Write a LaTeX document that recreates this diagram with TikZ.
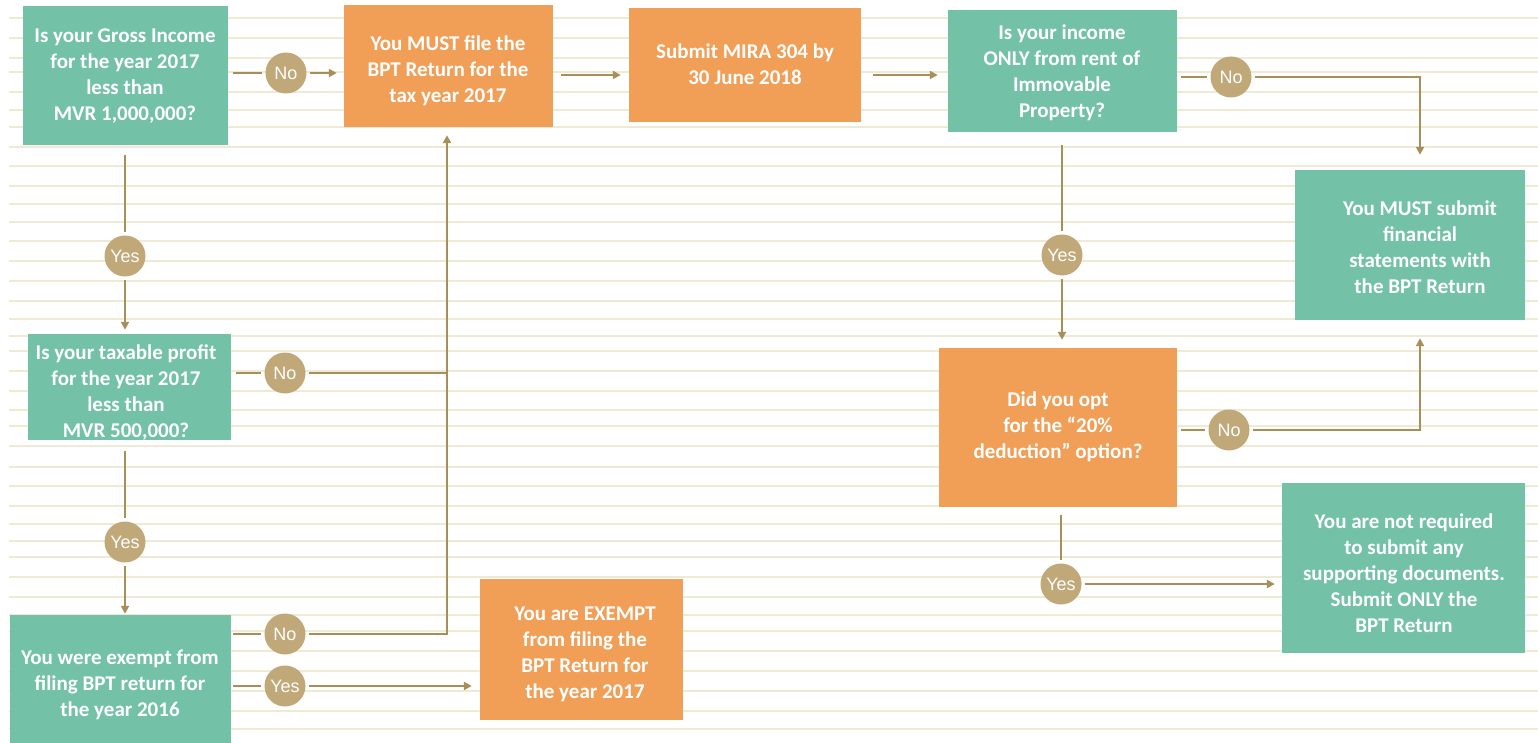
\documentclass[tikz,border=0pt]{standalone}
\usepackage{fontspec}
\usetikzlibrary{arrows.meta}
\newfontfamily\cbfont{Carlito}
\newfontfamily\lsfont{Liberation Sans}
\definecolor{tealbox}{HTML}{73C1A6}
\definecolor{orangebox}{HTML}{F19E56}
\definecolor{tanball}{HTML}{C1A879}
\definecolor{connline}{HTML}{A88E58}
\definecolor{ruleline}{HTML}{EFEAD3}
\tikzset{
  boxtext/.style={text=white, align=center, inner sep=0pt,
    font=\cbfont\bfseries\fontsize{21}{26}\selectfont},
  tbox/.style={fill=tealbox, inner sep=0pt},
  obox/.style={fill=orangebox, inner sep=0pt},
  yn/.style={circle, fill=tanball, text=white, minimum size=41pt, inner sep=0pt,
    font=\lsfont\fontsize{18}{20}\selectfont},
  conn/.style={draw=connline, line width=2.6pt},
  arr/.style={conn, -{Triangle[length=8pt,width=8pt]}},
  rule/.style={draw=ruleline, line width=1.6pt}
}
\begin{document}
\begin{tikzpicture}[x=1pt,y=-1pt]
\useasboundingbox (0,0) rectangle (1538,743);
\fill[white] (0,0) rectangle (1538,743);
% ruled background
\foreach \yy in {18,38,58,72,92,110,127,147,166,186,204,222,241,261,281,301,319,336,351,371,391,410,426,446,467,486,506,524,541,557,577,597,615,631,651,671,691,711,729}
  \draw[rule] (9,\yy) -- (1538,\yy);
% boxes
\node[tbox, minimum width=205pt, minimum height=139pt] (A) at (125.5,75.5) {};
\node[obox, minimum width=209pt, minimum height=122pt] (B) at (448.5,66) {};
\node[obox, minimum width=232pt, minimum height=114pt] (C) at (745,65) {};
\node[tbox, minimum width=229pt, minimum height=122pt] (D) at (1062.5,71) {};
\node[tbox, minimum width=230pt, minimum height=150pt] (E) at (1410,245) {};
\node[obox, minimum width=238pt, minimum height=159pt] (F) at (1058,427.5) {};
\node[tbox, minimum width=243pt, minimum height=170pt] (G) at (1403.5,568) {};
\node[tbox, minimum width=203pt, minimum height=106pt] (H) at (129.5,387) {};
\node[tbox, minimum width=221pt, minimum height=128pt] (I) at (120.5,679) {};
\node[obox, minimum width=203pt, minimum height=141pt] (J) at (581.5,649.5) {};
% box texts
\node[boxtext] (At) at (125,76.5) {Is your Gross Income\\for the year 2017\\less than\\MVR 1,000,000?};
\node[boxtext] (Bt) at (448,70.5) {You MUST file the\\BPT Return for the\\tax year 2017};
\node[boxtext] (Ct) at (745,64) {Submit MIRA 304 by\\30 June 2018};
\node[boxtext] (Dt) at (1062,73) {Is your income\\ONLY from rent of\\Immovable\\Property?};
\node[boxtext] (Et) at (1420,247.5) {You MUST submit\\financial\\statements with\\the BPT Return};
\node[boxtext] (Ft) at (1058,426.5) {Did you opt\\for the “20\%\\deduction” option?};
\node[boxtext] (Gt) at (1404,573.5) {You are not required\\to submit any\\supporting documents.\\Submit ONLY the\\BPT Return};
\node[boxtext] (Ht) at (126,392.5) {Is your taxable profit\\for the year 2017\\less than\\MVR 500,000?};
\node[boxtext] (It) at (120,685) {You were exempt from\\filing BPT return for\\the year 2016};
\node[boxtext] (Jt) at (585,654.5) {You are EXEMPT\\from filing the\\BPT Return for\\the year 2017};
% yes/no balls
\node[yn] (n1) at (286,73) {No};
\node[yn] (y1) at (125,256) {Yes};
\node[yn] (n2) at (285,373) {No};
\node[yn] (y2) at (125,542) {Yes};
\node[yn] (n3) at (285,634) {No};
\node[yn] (y3) at (285,686) {Yes};
\node[yn] (n4) at (1231,77) {No};
\node[yn] (y4) at (1062,255) {Yes};
\node[yn] (n5) at (1229,430) {No};
\node[yn] (y5) at (1061,584) {Yes};
% junction coordinates
\coordinate (jn) at (447,634);
\coordinate (ec) at (1420,77);
\coordinate (fc) at (1420,430);
% connectors
\draw[conn, shorten <=5pt, shorten >=3pt] (A.east |- n1) -- (n1);
\draw[arr, shorten <=3pt, shorten >=7pt] (n1) -- (B.west |- n1);
\draw[conn, shorten <=10pt, shorten >=3pt] (y1 |- A.south) -- (y1);
\draw[arr, shorten <=3pt, shorten >=4pt] (y1) -- (y1 |- H.north);
\draw[conn, shorten <=5pt, shorten >=3pt] (H.east |- n2) -- (n2);
\draw[conn, shorten <=3pt] (n2) -- (jn |- n2);
\draw[conn, shorten <=11pt, shorten >=3pt] (y2 |- H.south) -- (y2);
\draw[arr, shorten <=3pt, shorten >=1pt] (y2) -- (y2 |- I.north);
\draw[conn, shorten <=2pt, shorten >=3pt] (I.east |- n3) -- (n3);
\draw[arr, shorten <=3pt, shorten >=8pt] (n3) -- (jn) -- (jn |- B.south);
\draw[conn, shorten <=2pt, shorten >=3pt] (I.east |- y3) -- (y3);
\draw[arr, shorten <=3pt, shorten >=8pt] (y3) -- (J.west |- y3);
\draw[arr, shorten <=8pt, shorten >=8pt] (B.east |- 0,75) -- (C.west |- 0,75);
\draw[arr, shorten <=12pt, shorten >=10pt] (C.east |- 0,75) -- (D.west |- 0,75);
\draw[conn, shorten <=4pt, shorten >=3pt] (D.east |- n4) -- (n4);
\draw[arr, shorten <=3pt, shorten >=15pt] (n4) -- (ec) -- (ec |- E.north);
\draw[conn, shorten <=13pt, shorten >=3pt] (y4 |- D.south) -- (y4);
\draw[arr, shorten <=3pt, shorten >=8pt] (y4) -- (y4 |- F.north);
\draw[conn, shorten <=4pt, shorten >=3pt] (F.east |- n5) -- (n5);
\draw[arr, shorten <=3pt, shorten >=18pt] (n5) -- (fc) -- (fc |- E.south);
\draw[conn, shorten <=8pt, shorten >=3pt] (y5 |- F.south) -- (y5);
\draw[arr, shorten <=3pt, shorten >=7pt] (y5) -- (G.west |- y5);
\end{tikzpicture}
\end{document}
